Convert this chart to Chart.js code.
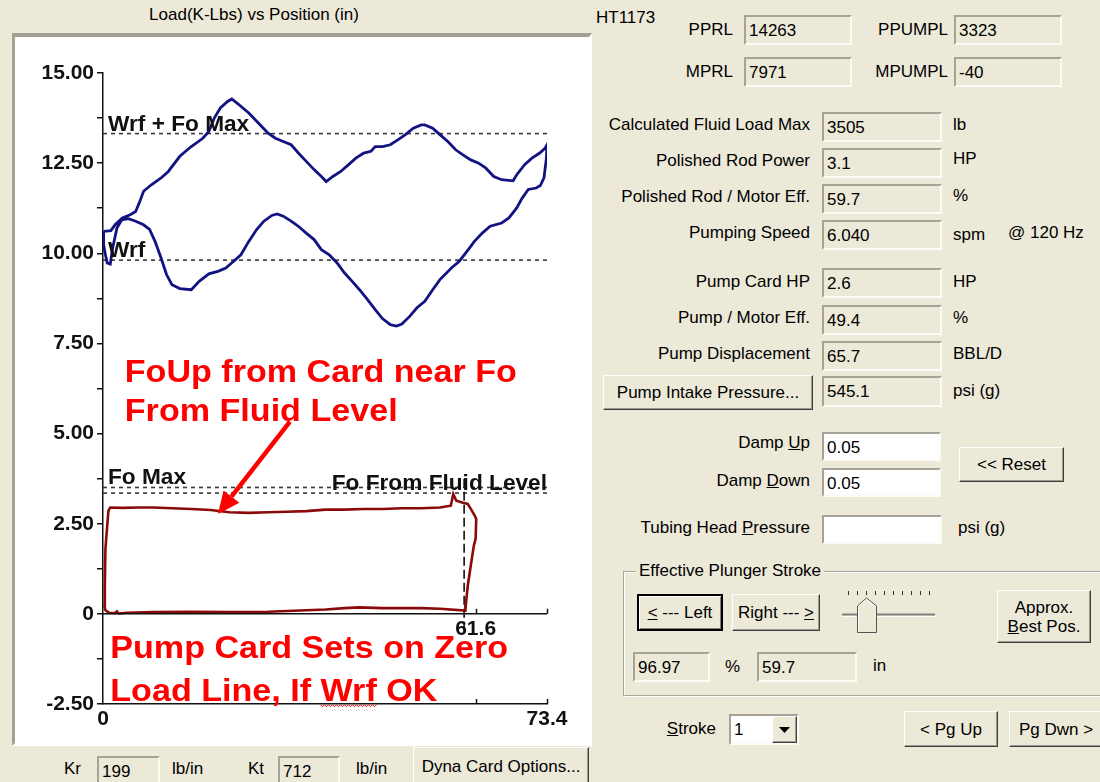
<!DOCTYPE html>
<html>
<head>
<meta charset="utf-8">
<script src="https://cdn.jsdelivr.net/npm/chart.js@4.4.1/dist/chart.umd.min.js"></script>
<style>
  body { margin: 0; width: 1100px; height: 782px; background: #ece9d8; position: relative; overflow: hidden;
         font-family: "Liberation Sans", Arial, sans-serif; font-size: 17px; color: #000; }
  .a { position: absolute; white-space: nowrap; line-height: 20px; }
  .tb { position: absolute; box-sizing: border-box; border: 2px solid; border-color: #a5a397 #fbfaf5 #fbfaf5 #a5a397;
        background: #ece9d8; padding: 3px 0 0 3px; line-height: 22px; white-space: nowrap; overflow: hidden; }
  .tb.w { background: #fff; }
  .btn { position: absolute; box-sizing: border-box; background: #ece9d8; border: 1px solid;
         border-color: #fff #404040 #404040 #fff; box-shadow: inset -1px -1px 0 #9d9b90;
         display: flex; align-items: center; justify-content: center; text-align: center; line-height: 19px; white-space: nowrap; }
  .panel { position: absolute; left: 12px; top: 33px; width: 580px; height: 713px; box-sizing: border-box;
           border-style: solid; border-width: 4px 3px 3px 3px; border-color: #a3a194 #fff #fff #a3a194; background: #fff; }
  #card { position: absolute; left: 15px; top: 37px; }
</style>
</head>
<body>
<div class="a" style="left:0;width:508px;text-align:center;top:5px;">Load(K-Lbs) vs Position (in)</div>
<div class="panel"></div>
<canvas id="card" width="573" height="706"></canvas>

<!-- bottom strip -->
<div class="a" style="left:64px;top:759px;">Kr</div>
<div class="tb" style="left:97px;top:756px;width:63px;height:34px;">199</div>
<div class="a" style="left:172px;top:759px;">lb/in</div>
<div class="a" style="left:248px;top:759px;">Kt</div>
<div class="tb" style="left:278px;top:756px;width:62px;height:34px;">712</div>
<div class="a" style="left:356px;top:759px;">lb/in</div>
<div class="btn" style="left:413px;top:747px;width:176px;height:40px;align-items:flex-start;padding-top:9px;">Dyna Card Options...</div>

<!-- right panel -->
<div class="a" style="left:596px;top:8px;">HT1173</div>
<div class="a" style="right:367px;top:20px;">PPRL</div>
<div class="tb" style="left:744px;top:15px;width:108px;height:30px;">14263</div>
<div class="a" style="right:152px;top:20px;">PPUMPL</div>
<div class="tb" style="left:954px;top:15px;width:108px;height:30px;">3323</div>
<div class="a" style="right:367px;top:62px;">MPRL</div>
<div class="tb" style="left:744px;top:57px;width:108px;height:30px;">7971</div>
<div class="a" style="right:152px;top:62px;">MPUMPL</div>
<div class="tb" style="left:954px;top:57px;width:108px;height:30px;">-40</div>

<div class="a" style="right:290px;top:115px;">Calculated Fluid Load Max</div>
<div class="tb" style="left:822px;top:112px;width:120px;height:30px;">3505</div>
<div class="a" style="left:953px;top:115px;">lb</div>
<div class="a" style="right:290px;top:151px;">Polished Rod Power</div>
<div class="tb" style="left:822px;top:148px;width:120px;height:30px;">3.1</div>
<div class="a" style="left:953px;top:149px;">HP</div>
<div class="a" style="right:290px;top:187px;">Polished Rod / Motor Eff.</div>
<div class="tb" style="left:822px;top:184px;width:120px;height:30px;">59.7</div>
<div class="a" style="left:953px;top:186px;">%</div>
<div class="a" style="right:290px;top:223px;">Pumping Speed</div>
<div class="tb" style="left:822px;top:220px;width:120px;height:30px;">6.040</div>
<div class="a" style="left:953px;top:225px;">spm</div>
<div class="a" style="left:1008px;top:223px;">@ 120 Hz</div>

<div class="a" style="right:290px;top:272px;">Pump Card HP</div>
<div class="tb" style="left:822px;top:268px;width:120px;height:30px;">2.6</div>
<div class="a" style="left:953px;top:272px;">HP</div>
<div class="a" style="right:290px;top:308px;">Pump / Motor Eff.</div>
<div class="tb" style="left:822px;top:305px;width:120px;height:30px;">49.4</div>
<div class="a" style="left:953px;top:308px;">%</div>
<div class="a" style="right:290px;top:344px;">Pump Displacement</div>
<div class="tb" style="left:822px;top:341px;width:120px;height:30px;">65.7</div>
<div class="a" style="left:953px;top:344px;">BBL/D</div>
<div class="btn" style="left:603px;top:375px;width:210px;height:35px;">Pump Intake Pressure...</div>
<div class="tb" style="left:822px;top:376px;width:120px;height:31px;">545.1</div>
<div class="a" style="left:953px;top:381px;">psi (g)</div>

<div class="a" style="right:290px;top:433px;">Damp <u>U</u>p</div>
<div class="tb w" style="left:822px;top:432px;width:119px;height:29px;">0.05</div>
<div class="a" style="right:290px;top:471px;">Damp <u>D</u>own</div>
<div class="tb w" style="left:822px;top:468px;width:119px;height:29px;">0.05</div>
<div class="btn" style="left:959px;top:447px;width:105px;height:35px;">&lt;&lt; Reset</div>
<div class="a" style="right:290px;top:518px;">Tubing Head <u>P</u>ressure</div>
<div class="tb w" style="left:822px;top:515px;width:120px;height:29px;"></div>
<div class="a" style="left:958px;top:518px;">psi (g)</div>

<div style="position:absolute;left:623px;top:571px;width:490px;height:125px;box-sizing:border-box;border:1px solid #aca899;box-shadow:inset 1px 1px 0 #fff, 1px 1px 0 #fff;"></div>
<div class="a" style="left:636px;top:561px;background:#ece9d8;padding:0 3px;">Effective Plunger Stroke</div>
<div class="btn" style="left:637px;top:594px;width:86px;height:37px;border:2px solid #000;box-shadow:inset 1px 1px 0 #fff, inset -1px -1px 0 #808080;"><span><u>&lt;</u> --- Left</span></div>
<div class="btn" style="left:732px;top:594px;width:88px;height:37px;"><span>Right --- <u>&gt;</u></span></div>
<svg style="position:absolute;left:838px;top:586px;" width="100" height="50">
  <g stroke="#333" stroke-width="1">
    <line x1="10.5" y1="5" x2="10.5" y2="9"/><line x1="19.5" y1="5" x2="19.5" y2="9"/>
    <line x1="28.5" y1="5" x2="28.5" y2="9"/><line x1="37.5" y1="5" x2="37.5" y2="9"/>
    <line x1="46.5" y1="5" x2="46.5" y2="9"/><line x1="55.5" y1="5" x2="55.5" y2="9"/>
    <line x1="64.5" y1="5" x2="64.5" y2="9"/><line x1="73.5" y1="5" x2="73.5" y2="9"/>
    <line x1="82.5" y1="5" x2="82.5" y2="9"/><line x1="91.5" y1="5" x2="91.5" y2="9"/>
  </g>
  <line x1="4" y1="28.5" x2="97" y2="28.5" stroke="#808080" stroke-width="2"/>
  <line x1="4" y1="30.5" x2="97" y2="30.5" stroke="#fff" stroke-width="1"/>
  <polygon points="19.5,20 28.5,12 38.5,20 38.5,46.5 19.5,46.5" fill="#ece9d8" stroke="#555" stroke-width="1"/>
  <polyline points="20.5,45 20.5,20.5 28.5,13.5 37,20.5" fill="none" stroke="#fff" stroke-width="1"/>
</svg>
<div class="btn" style="left:997px;top:590px;width:94px;height:53px;"><span>Approx.<br><u>B</u>est Pos.</span></div>
<div class="tb" style="left:633px;top:652px;width:77px;height:30px;">96.97</div>
<div class="a" style="left:725px;top:657px;">%</div>
<div class="tb" style="left:757px;top:652px;width:100px;height:30px;">59.7</div>
<div class="a" style="left:873px;top:656px;">in</div>

<div class="a" style="right:384px;top:719px;"><u>S</u>troke</div>
<div class="tb w" style="left:729px;top:714px;width:70px;height:31px;">1</div>
<div class="btn" style="left:772px;top:716px;width:25px;height:27px;">
  <svg width="11" height="6"><polygon points="0,0 11,0 5.5,6" fill="#000"/></svg>
</div>
<div class="btn" style="left:904px;top:711px;width:94px;height:36px;">&lt; Pg Up</div>
<div class="btn" style="left:1009px;top:711px;width:94px;height:36px;">Pg Dwn &gt;</div>

<script>
// surface card (rod load vs polished rod position), one closed loop
const surfPos = [
  0.1, 1.3, 2.0, 3.2, 4.5, 5.4, 6.1, 6.7, 8.0, 9.6,
  10.8, 12.7, 14.6, 16.5, 17.5, 18.4, 19.4, 20.6, 21.3, 22.2,
  24.1, 26.0, 27.3, 28.5, 29.8, 31.1, 32.3, 33.6, 34.9, 36.1,
  36.9, 38.0, 39.3, 40.6, 41.8, 43.1, 44.3, 45.0, 46.2, 47.5,
  48.8, 50.0, 51.3, 52.6, 53.2, 54.5, 55.7, 57.0, 58.3, 59.5,
  60.8, 62.1, 63.3, 64.6, 65.9, 67.8, 68.4, 69.7, 70.9, 72.2,
  73.1, 73.4, 73.3, 72.9, 72.3, 71.6, 70.3, 69.3, 68.4, 67.1,
  65.9, 64.0, 62.7, 61.4, 60.2, 58.9, 57.6, 55.7, 54.5, 53.2,
  51.9, 50.7, 49.4, 48.5, 47.5, 46.2, 45.0, 43.7, 42.4, 41.2,
  39.9, 38.7, 37.4, 36.1, 34.9, 33.6, 32.3, 31.1, 29.8, 28.8,
  27.9, 26.6, 25.4, 24.1, 22.8, 21.6, 20.3, 19.0, 17.5, 15.9,
  14.6, 12.7, 11.4, 10.5, 9.6, 8.6, 7.7, 6.7, 5.4, 4.2,
  3.1, 2.3, 1.6, 1.2, 0.7, 0.4, 0.1, 0.1
];
const surfLoad = [
  10.61, 10.63, 10.79, 10.98, 11.07, 11.16, 11.44, 11.72, 11.90, 12.09,
  12.27, 12.69, 12.96, 13.19, 13.38, 13.75, 14.03, 14.21, 14.28, 14.16,
  13.89, 13.56, 13.33, 13.19, 13.10, 13.01, 12.78, 12.55, 12.32, 12.13,
  11.99, 12.13, 12.27, 12.46, 12.64, 12.78, 12.83, 12.96, 12.96, 13.01,
  13.15, 13.29, 13.47, 13.56, 13.56, 13.47, 13.29, 13.10, 12.87, 12.73,
  12.59, 12.50, 12.36, 12.13, 12.04, 12.01, 12.18, 12.46, 12.64, 12.78,
  12.92, 13.01, 12.64, 12.09, 11.88, 11.81, 11.77, 11.53, 11.26, 10.98,
  10.84, 10.75, 10.56, 10.33, 10.06, 9.78, 9.59, 9.27, 8.99, 8.67,
  8.49, 8.25, 8.04, 7.98, 8.02, 8.19, 8.44, 8.72, 8.99, 9.22,
  9.46, 9.73, 9.96, 10.10, 10.38, 10.56, 10.75, 10.89, 11.03, 11.09,
  11.05, 10.89, 10.66, 10.33, 9.96, 9.78, 9.59, 9.50, 9.43, 9.22,
  8.99, 9.02, 9.13, 9.41, 9.87, 10.33, 10.66, 10.79, 10.89, 10.96,
  10.93, 10.70, 10.15, 9.70, 9.73, 9.96, 10.24, 10.61
];

// pump card (downhole)
const pumpPos = [
  0.2, 0.3, 0.4, 0.7, 0.9, 1.2, 3.2, 5.8, 8.3, 11.4,
  14.6, 17.8, 20.9, 24.1, 27.3, 30.4, 33.6, 36.8, 39.9, 43.1,
  46.2, 49.4, 52.6, 55.7, 57.5, 57.9, 58.4, 59.5, 60.3, 60.8,
  61.4, 61.7, 61.6, 61.3, 60.8, 60.3, 60.0, 59.9, 55.7, 52.6,
  46.2, 42.4, 39.9, 36.8, 33.6, 27.3, 20.9, 14.6, 8.3, 3.9,
  2.6, 2.3, 2.0, 1.0, 0.4, 0.2
];
const pumpLoad = [
  0.23, 0.78, 1.80, 2.45, 2.86, 2.95, 2.94, 2.95, 2.95, 2.93,
  2.91, 2.88, 2.82, 2.80, 2.82, 2.83, 2.85, 2.89, 2.89, 2.91,
  2.91, 2.93, 2.93, 2.95, 3.00, 3.32, 3.14, 3.08, 3.05, 2.91,
  2.74, 2.63, 2.08, 1.89, 1.34, 0.78, 0.28, 0.09, 0.14, 0.16,
  0.16, 0.18, 0.16, 0.12, 0.10, 0.06, 0.05, 0.06, 0.05, 0.03,
  0.01, 0.07, 0.02, 0.03, 0.10, 0.23
];

// reference load lines (K-Lbs)
const refNames = ["Wrf + Fo Max", "Wrf", "Fo Max", "Fo From Fluid Level"];
const refLoads = [13.32, 9.81, 3.505, 3.35];

const posMax = 73.4;
const pumpStroke = 61.6;
const plungerStroke = 59.7;
const plungerLineLoads = [3.75, -0.5];
const yMin = -2.5, yMax = 15;
const yTickValues = [-2.5, -1.25, 0, 1.25, 2.5, 3.75, 5, 6.25, 7.5, 8.75, 10, 11.25, 12.5, 13.75, 15];
const yTickLabels = { "-2.5": "-2.50", "0": "0", "2.5": "2.50", "5": "5.00", "7.5": "7.50",
                      "10": "10.00", "12.5": "12.50", "15": "15.00" };
const xTickValues = [0, posMax];

const notes = [
  { text: "FoUp from Card near Fo", x: 3.6, y: 6.43 },
  { text: "From Fluid Level", x: 3.6, y: 5.35 },
  { text: "Pump Card Sets on Zero", x: 1.2, y: -1.22 },
  { text: "Load Line, If Wrf OK", x: 1.2, y: -2.41 }
];
const arrowFrom = { x: 30.9, y: 5.33 };
const arrowTo = { x: 19.0, y: 2.77 };

const toXY = (xs, ys) => xs.map((v, i) => ({ x: v, y: ys[i] }));

function wideText(ctx, text, x, y, sx, align) {
  ctx.save();
  ctx.translate(x, y);
  ctx.scale(sx, 1);
  ctx.textAlign = align;
  ctx.fillText(text, 0, 0);
  ctx.restore();
}

// axis details, line labels and the red notes
const cardNotes = {
  id: "cardNotes",
  afterDatasetsDraw(chart) {
    const { ctx, scales: { x, y } } = chart;
    const x0 = x.getPixelForValue(0), x1 = x.getPixelForValue(posMax);
    const y0 = y.getPixelForValue(0), yb = y.getPixelForValue(yMin);
    ctx.save();

    // zero load line with its ticks
    ctx.strokeStyle = "#111";
    ctx.lineWidth = 1.5;
    ctx.beginPath();
    ctx.moveTo(x0, y0); ctx.lineTo(x1, y0);
    [pumpStroke, posMax].forEach((v) => {
      const px = Math.round(x.getPixelForValue(v)) + 0.5;
      ctx.moveTo(px, y0); ctx.lineTo(px, y0 - 5);
      ctx.moveTo(px, yb); ctx.lineTo(px, yb - 5);
    });
    ctx.stroke();
    ctx.fillStyle = "#111";
    ctx.font = "bold 21px 'Liberation Sans', Arial";
    ctx.textBaseline = "top";
    wideText(ctx, String(pumpStroke), x.getPixelForValue(pumpStroke), y0 + 5, 1, "center");

    // names of the reference lines
    ctx.font = "bold 22px 'Liberation Sans', Arial";
    ctx.textBaseline = "alphabetic";
    refNames.forEach((name, i) => {
      const py = y.getPixelForValue(refLoads[i]) - 3;
      if (i === 3) wideText(ctx, name, x1, py, 1.03, "right");
      else wideText(ctx, name, x0 + 5, py, 1.03, "left");
    });

    // red notes
    ctx.font = "bold 31px 'Liberation Sans', Arial";
    ctx.fillStyle = "#f00";
    notes.forEach((n) => wideText(ctx, n.text, x.getPixelForValue(n.x), y.getPixelForValue(n.y), 1.1, "left"));

    // spell-check squiggle under "Wrf"
    const last = notes[3];
    const sx = x.getPixelForValue(last.x) + ctx.measureText("Load Line, If ").width * 1.1;
    const w = ctx.measureText("Wrf").width * 1.1;
    const sy = y.getPixelForValue(last.y) + 4;
    ctx.strokeStyle = "#f00";
    ctx.lineWidth = 1;
    ctx.beginPath();
    for (let k = 0; k <= w; k += 2) {
      const yy = sy + ((k / 2) % 2 === 0 ? 0 : 2);
      if (k === 0) ctx.moveTo(sx + k, yy); else ctx.lineTo(sx + k, yy);
    }
    ctx.stroke();

    // arrow
    const ax = x.getPixelForValue(arrowFrom.x), ay = y.getPixelForValue(arrowFrom.y);
    const bx = x.getPixelForValue(arrowTo.x), by = y.getPixelForValue(arrowTo.y);
    const ang = Math.atan2(by - ay, bx - ax);
    const head = 22, half = 10;
    const hx = bx - head * Math.cos(ang), hy = by - head * Math.sin(ang);
    ctx.strokeStyle = "#f00";
    ctx.lineWidth = 4.5;
    ctx.beginPath();
    ctx.moveTo(ax, ay); ctx.lineTo(hx, hy);
    ctx.stroke();
    ctx.beginPath();
    ctx.moveTo(bx, by);
    ctx.lineTo(hx + half * Math.sin(ang), hy - half * Math.cos(ang));
    ctx.lineTo(hx - half * Math.sin(ang), hy + half * Math.cos(ang));
    ctx.closePath();
    ctx.fill();
    ctx.restore();
  }
};

const refSets = refLoads.map((v, i) => ({
  label: refNames[i],
  data: [{ x: 0, y: v }, { x: posMax, y: v }],
  showLine: true,
  borderColor: "#3a3a3a",
  borderWidth: 1.6,
  borderDash: [4, 4],
  pointRadius: 0
}));

new Chart(document.getElementById("card"), {
  type: "scatter",
  data: {
    datasets: [
      {
        label: "Surface card",
        data: toXY(surfPos, surfLoad),
        showLine: true,
        borderColor: "#121283",
        borderWidth: 2.8,
        pointRadius: 0,
        tension: 0
      },
      {
        label: "Pump card",
        data: toXY(pumpPos, pumpLoad),
        showLine: true,
        borderColor: "#8a0a0a",
        borderWidth: 2.6,
        pointRadius: 0,
        tension: 0
      },
      {
        label: "Effective plunger stroke",
        data: plungerLineLoads.map((v) => ({ x: plungerStroke, y: v })),
        showLine: true,
        borderColor: "#111",
        borderWidth: 1.6,
        borderDash: [9, 4],
        pointRadius: 0
      },
      ...refSets
    ]
  },
  options: {
    responsive: false,
    animation: false,
    events: [],
    layout: { padding: { left: 0, right: 41, top: 36, bottom: 9 } },
    plugins: { legend: { display: false }, tooltip: { enabled: false } },
    scales: {
      x: {
        type: "linear",
        min: 0,
        max: posMax,
        afterBuildTicks: (s) => { s.ticks = xTickValues.map((v) => ({ value: v })); },
        afterFit: (s) => { s.height = 30; },
        grid: { display: false, drawTicks: false },
        border: { display: true, color: "#111", width: 1.5 },
        ticks: {
          autoSkip: false,
          maxRotation: 0,
          padding: 3,
          color: "#111",
          font: { family: "'Liberation Sans', Arial", size: 21, weight: "bold" },
          callback: (v) => String(v)
        }
      },
      y: {
        min: yMin,
        max: yMax,
        afterBuildTicks: (s) => { s.ticks = yTickValues.map((v) => ({ value: v })); },
        afterFit: (s) => { s.width = 88; },
        grid: { display: true, drawOnChartArea: false, drawTicks: true, tickLength: 6, color: "#111", lineWidth: 1.5 },
        border: { display: true, color: "#111", width: 1.5 },
        ticks: {
          autoSkip: false,
          padding: 3,
          color: "#111",
          font: { family: "'Liberation Sans', Arial", size: 21, weight: "bold" },
          callback: (v) => yTickLabels[String(v)] || ""
        }
      }
    }
  },
  plugins: [cardNotes]
});
</script>
</body>
</html>
